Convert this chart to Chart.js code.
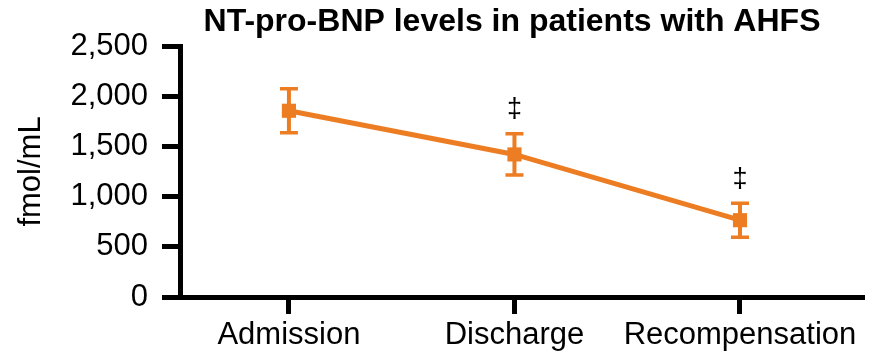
<!DOCTYPE html>
<html>
<head>
<meta charset="utf-8">
<script src="https://cdn.jsdelivr.net/npm/chart.js@4.4.1/dist/chart.umd.min.js"></script>
<style>
  html, body { margin: 0; padding: 0; background: #ffffff; }
  #wrap { width: 880px; height: 352px; }
</style>
</head>
<body>
<div id="wrap"><canvas id="chart" width="880" height="352"></canvas></div>
<script>
// Time points and NT-pro-BNP means (fmol/mL) with error bar half-widths
const categories = ['Admission', 'Discharge', 'Recompensation'];
const meanValues = [1855, 1420, 765];
const errorValues = [218, 205, 170];
const significance = ['', '‡', '‡'];
const yTicks = [0, 500, 1000, 1500, 2000, 2500];
const chartTitle = 'NT-pro-BNP levels in patients with AHFS';

const ORANGE = '#ED7D22';
const FONT = '"Liberation Sans", Arial, Helvetica, sans-serif';

// Bold heading above the plot
const heading = {
  id: 'heading',
  afterDraw(chart) {
    const { ctx } = chart;
    ctx.save();
    ctx.fillStyle = '#000';
    ctx.font = 'bold 32px ' + FONT;
    ctx.textAlign = 'center';
    ctx.textBaseline = 'alphabetic';
    ctx.fillText(chartTitle, 512, 31);
    ctx.restore();
  }
};

// Vertical error bars with caps, drawn beneath the line and markers
const errorBars = {
  id: 'errorBars',
  beforeDatasetsDraw(chart) {
    const { ctx, scales: { x, y } } = chart;
    ctx.save();
    ctx.strokeStyle = ORANGE;
    meanValues.forEach((v, i) => {
      const px = x.getPixelForValue(i);
      const top = y.getPixelForValue(v + errorValues[i]);
      const bot = y.getPixelForValue(v - errorValues[i]);
      ctx.lineWidth = 4;
      ctx.beginPath();
      ctx.moveTo(px, top);
      ctx.lineTo(px, bot);
      ctx.stroke();
      ctx.lineWidth = 3.5;
      ctx.beginPath();
      ctx.moveTo(px - 9, top);
      ctx.lineTo(px + 9, top);
      ctx.moveTo(px - 9, bot);
      ctx.lineTo(px + 9, bot);
      ctx.stroke();
    });
    ctx.restore();
  },
  afterDatasetsDraw(chart) {
    const { ctx, scales: { x, y } } = chart;
    ctx.save();
    ctx.fillStyle = '#000';
    ctx.font = '27px ' + FONT;
    ctx.textAlign = 'center';
    ctx.textBaseline = 'middle';
    significance.forEach((s, i) => {
      if (!s) return;
      const px = x.getPixelForValue(i);
      const top = y.getPixelForValue(meanValues[i] + errorValues[i]);
      ctx.fillText(s, px, top - 24);
    });
    ctx.restore();
  }
};

new Chart(document.getElementById('chart'), {
  type: 'line',
  data: {
    datasets: [{
      data: meanValues.map((v, i) => ({ x: i, y: v })),
      borderColor: ORANGE,
      backgroundColor: ORANGE,
      borderWidth: 5,
      pointStyle: 'rect',
      pointRadius: 10,
      pointBorderWidth: 0,
      pointBackgroundColor: ORANGE,
      tension: 0
    }]
  },
  options: {
    responsive: false,
    animation: false,
    devicePixelRatio: 1,
    layout: { padding: { left: 0, right: 18, top: 46, bottom: 0 } },
    plugins: {
      legend: { display: false },
      tooltip: { enabled: false },
      title: { display: false }
    },
    scales: {
      x: {
        type: 'linear',
        min: -0.483,
        max: 2.541,
        afterFit(scale) { scale.height = 55; },
        afterBuildTicks(scale) { scale.ticks = categories.map((c, i) => ({ value: i })); },
        ticks: {
          color: '#000',
          font: { family: FONT, size: 31 },
          padding: 3,
          maxRotation: 0,
          autoSkip: false,
          callback: (v) => categories[v]
        },
        grid: {
          drawOnChartArea: false,
          drawTicks: true,
          tickLength: 17,
          tickWidth: 5,
          tickColor: '#000',
          color: '#000',
          lineWidth: 5
        },
        border: { display: true, color: '#000', width: 5 }
      },
      y: {
        min: 0,
        max: 2500,
        afterFit(scale) { scale.width = 180; },
        afterBuildTicks(scale) { scale.ticks = yTicks.map(v => ({ value: v })); },
        ticks: {
          color: '#000',
          font: { family: FONT, size: 31 },
          padding: 14,
          callback: (v) => v.toLocaleString('en-US')
        },
        title: {
          display: true,
          text: 'fmol/mL',
          color: '#000',
          font: { family: FONT, size: 31 },
          padding: { top: 13, bottom: 0 }
        },
        grid: {
          drawOnChartArea: false,
          drawTicks: true,
          tickLength: 18,
          tickWidth: 5,
          tickColor: '#000',
          color: '#000',
          lineWidth: 5
        },
        border: { display: true, color: '#000', width: 5 }
      }
    }
  },
  plugins: [errorBars, heading]
});
</script>
</body>
</html>
